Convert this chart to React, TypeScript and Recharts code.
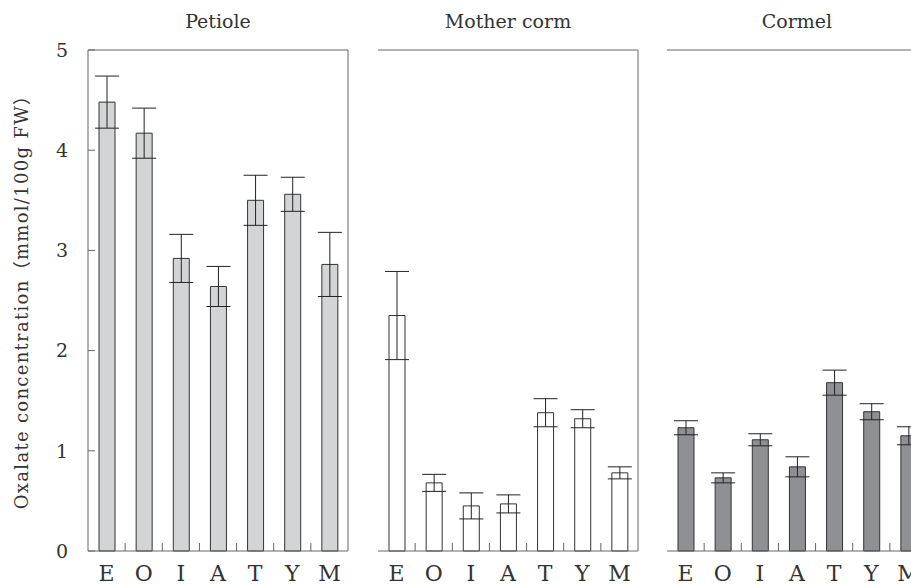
import { BarChart, Bar, XAxis, YAxis, ErrorBar, Label, ReferenceLine, CartesianGrid } from 'recharts';

const categories = ['E', 'O', 'I', 'A', 'T', 'Y', 'M'];
const petiole = [4.48, 4.17, 2.92, 2.64, 3.5, 3.56, 2.86];
const petioleErr = [0.26, 0.25, 0.24, 0.2, 0.25, 0.17, 0.32];
const motherCorm = [2.35, 0.68, 0.45, 0.47, 1.38, 1.32, 0.78];
const motherCormErr = [0.44, 0.085, 0.13, 0.09, 0.14, 0.09, 0.06];
const cormel = [1.23, 0.73, 1.11, 0.84, 1.68, 1.39, 1.15];
const cormelErr = [0.07, 0.05, 0.06, 0.1, 0.125, 0.08, 0.09];
const yTicks = [0, 1, 2, 3, 4, 5];
const yLabel = 'Oxalate concentration（mmol/100g FW）';

const FONT = '"DejaVu Serif", "Liberation Serif", "Noto Sans CJK JP", serif';
const TEXT = '#333';
const AXIS = '#666';
const PLOT_W = 260;
const CHART_H = 585;

interface PanelProps {
  title: string;
  values: number[];
  errs: number[];
  fill: string;
  left: number;
  marginLeft: number;
  yAxisWidth: number;
  width: number;
  showYLabels?: boolean;
}

function Panel({ title, values, errs, fill, left, marginLeft, yAxisWidth, width, showYLabels }: PanelProps) {
  const data = categories.map((cat, i) => ({ cat, value: values[i], err: errs[i] }));
  const bandHalf = PLOT_W / categories.length / 2;

  const xTick = (props: any) => {
    const { x, y, payload, index } = props;
    const half = payload?.offset || bandHalf;
    return (
      <g>
        {index > 0 && <line x1={x - half} x2={x - half} y1={y} y2={y - 8} stroke={AXIS} strokeWidth={1} />}
        <text x={x} y={y + 30} textAnchor="middle" fontSize={22} fontFamily={FONT} fill={TEXT}>
          {payload.value}
        </text>
      </g>
    );
  };

  const yTick = (props: any) => {
    const { x, y, payload } = props;
    return (
      <g>
        <line x1={x} x2={x + 7} y1={y} y2={y} stroke={AXIS} strokeWidth={1} />
        {showYLabels && (
          <text x={x - 20} y={y} dy="0.36em" textAnchor="end" fontSize={19} fontFamily={FONT} fill={TEXT}>
            {payload.value}
          </text>
        )}
      </g>
    );
  };

  return (
    <div style={{ position: 'absolute', left, top: 0 }}>
      <BarChart
        width={width}
        height={CHART_H}
        data={data}
        margin={{ top: 50, right: width - marginLeft - yAxisWidth - PLOT_W, bottom: 0, left: marginLeft }}
        barSize={16}
      >
        <CartesianGrid
          horizontal={false}
          stroke={AXIS}
          strokeDasharray=""
          verticalCoordinatesGenerator={({ offset }: any) => [offset.left + offset.width]}
        />
        <XAxis
          dataKey="cat"
          height={34}
          tickLine={false}
          tickSize={0}
          tickMargin={0}
          tick={xTick}
          axisLine={{ stroke: AXIS }}
          interval={0}
        />
        <YAxis
          type="number"
          domain={[0, 5]}
          ticks={yTicks}
          width={yAxisWidth}
          tickLine={false}
          tickSize={0}
          tickMargin={0}
          tick={yTick}
          axisLine={{ stroke: AXIS }}
          interval={0}
        >
          {showYLabels && (
            <Label
              value={yLabel}
              content={(p: any) => {
                const vb = p.viewBox || { y: 50, height: 501 };
                const cy = vb.y + vb.height / 2 - 3;
                return (
                  <text
                    transform={`translate(21, ${cy}) rotate(-90)`}
                    textAnchor="middle"
                    dominantBaseline="central"
                    fontSize={18}
                    letterSpacing={1.3}
                    fontFamily={FONT}
                    fill={TEXT}
                  >
                    {yLabel}
                  </text>
                );
              }}
            />
          )}
        </YAxis>
        <ReferenceLine
          y={5}
          stroke={AXIS}
          label={{ value: title, position: 'top', offset: 22, fontSize: 19, fontFamily: FONT, fill: TEXT }}
        />
        <Bar dataKey="value" fill={fill} stroke="#333" strokeWidth={1} isAnimationActive={false}>
          <ErrorBar dataKey="err" width={12} stroke="#222" strokeWidth={1} isAnimationActive={false} />
        </Bar>
      </BarChart>
    </div>
  );
}

export default function App() {
  return (
    <div
      style={{
        position: 'fixed',
        left: 0,
        top: 0,
        width: 911,
        height: 585,
        overflow: 'hidden',
        background: '#fff',
      }}
    >
      <Panel title="Petiole" values={petiole} errs={petioleErr} fill="#d3d4d6" left={0} marginLeft={48} yAxisWidth={40} width={360} showYLabels />
      <Panel title="Mother corm" values={motherCorm} errs={motherCormErr} fill="#ffffff" left={360} marginLeft={18} yAxisWidth={0} width={290} />
      <Panel title="Cormel" values={cormel} errs={cormelErr} fill="#8f9093" left={650} marginLeft={17} yAxisWidth={0} width={300} />
    </div>
  );
}
